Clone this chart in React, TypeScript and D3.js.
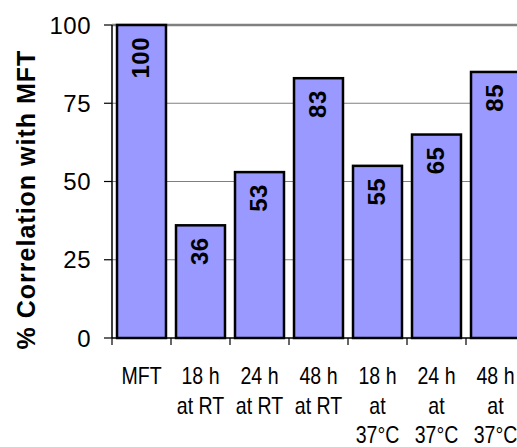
import React from "react";
import * as d3 from "d3";

const categories = ["MFT", "18 h at RT", "24 h at RT", "48 h at RT", "18 h at 37°C", "24 h at 37°C", "48 h at 37°C"];
const categoryLines = [["MFT"], ["18 h", "at RT"], ["24 h", "at RT"], ["48 h", "at RT"], ["18 h", "at", "37°C"], ["24 h", "at", "37°C"], ["48 h", "at", "37°C"]];
const values = [100, 36, 53, 83, 55, 65, 85];
const yTicks = [0, 25, 50, 75, 100];
const yTitle = "% Correlation with MFT";

const W = 517, H = 447;
const plotLeft = 112, plotTop = 25, plotBottom = 338;
const step = 59;

export default function App() {
  const x = d3.scaleBand<string>().domain(categories).range([plotLeft, plotLeft + step * categories.length]).paddingInner(0.17).paddingOuter(0.085);
  const y = d3.scaleLinear().domain([0, 100]).range([plotBottom, plotTop]);
  const font = "'Liberation Sans', Arial, sans-serif";
  return (
    <svg width={W} height={H} style={{ position: "absolute", left: 0, top: 0, background: "#fff" }} fontFamily={font}>
      {yTicks.filter(t => t > 0).map(t => (
        <line key={"g" + t} x1={plotLeft} x2={W} y1={y(t)} y2={y(t)} stroke="#808080" strokeWidth={t === 100 ? 2.5 : 1.2} />
      ))}
      {categories.map((c, i) => (
        <rect key={c} x={x(c)!} y={y(values[i])} width={x.bandwidth()} height={y(0) - y(values[i])} fill="#9999FF" stroke="#000" strokeWidth={2.5} />
      ))}
      <line x1={plotLeft} x2={plotLeft} y1={plotTop} y2={plotBottom} stroke="#000" strokeWidth={1.5} />
      <line x1={plotLeft} x2={W} y1={plotBottom} y2={plotBottom} stroke="#000" strokeWidth={1.5} />
      {yTicks.map(t => (
        <g key={"t" + t}>
          <line x1={plotLeft - 8} x2={plotLeft} y1={y(t)} y2={y(t)} stroke="#000" strokeWidth={1.2} />
          <text x={91} y={y(t)} dy="0.36em" textAnchor="end" fontSize={24} letterSpacing={0.5}>{t}</text>
        </g>
      ))}
      {d3.range(categories.length).map(i => (
        <line key={"xt" + i} x1={plotLeft + i * step} x2={plotLeft + i * step} y1={plotBottom} y2={plotBottom + 7} stroke="#000" strokeWidth={1.2} />
      ))}
      {categories.map((c, i) => {
        const cx = x(c)! + x.bandwidth() / 2 - 1;
        return (
          <text key={"v" + c} transform={`translate(${cx},${y(values[i]) + 12}) rotate(-90)`} textAnchor="end" dy="0.36em" fontSize={24} fontWeight="bold" letterSpacing={0.5}>{values[i]}</text>
        );
      })}
      {categories.map((c, i) => {
        const cx = x(c)! + x.bandwidth() / 2;
        return categoryLines[i].map((ln, j) => (
          <text key={c + j} transform={`translate(${cx},${384 + j * 29.5}) scale(0.85,1)`} textAnchor="middle" fontSize={23}>{ln}</text>
        ));
      })}
      <text transform={`translate(35,199.5) rotate(-90)`} textAnchor="middle" fontSize={25} fontWeight="bold" letterSpacing={1}>{yTitle}</text>
    </svg>
  );
}
